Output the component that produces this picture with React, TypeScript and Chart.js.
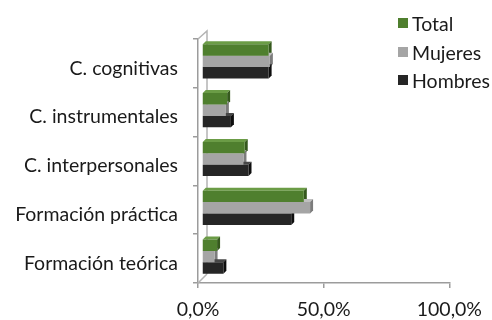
import React, { useEffect, useRef } from "react";
import { Chart, registerables } from "chart.js";

Chart.register(...registerables);

const categories = [
  "C. cognitivas",
  "C. instrumentales",
  "C. interpersonales",
  "Formación práctica",
  "Formación teórica",
];
const seriesNames = ["Total", "Mujeres", "Hombres"];
const totalValues = [26.5, 10, 17, 40.5, 6];
const mujeresValues = [27, 9.5, 16.5, 43, 5];
const hombresValues = [26.5, 11.5, 18.5, 35.5, 8.5];
const xTickValues = [0, 50, 100];

const FRONT = ["#4f7f2e", "#a5a5a5", "#262626"];
const SIDE = ["#35591d", "#7c7c7c", "#0e0e0e"];
const TOPC = ["#6b9c46", "#c0c0c0", "#474747"];
const DEPTH = 3;
const SHIFT_X = 4;
const SHIFT_Y = -2;
const AXIS = "#9c9c9c";
const TEXT = "#1a1a1a";
const FONT = "Lato";
const FSIZE = 19.5;

const threeD = {
  id: "threeD",
  beforeDatasetsDraw(chart: any) {
    const ctx = chart.ctx;
    const { left, top, bottom } = chart.chartArea;
    ctx.save();
    ctx.strokeStyle = "#b4b4b4";
    ctx.lineWidth = 1.5;
    ctx.beginPath();
    ctx.moveTo(left, top);
    ctx.lineTo(left + 9, top - 8);
    ctx.lineTo(left + 9, bottom - 9);
    ctx.moveTo(left, bottom);
    ctx.lineTo(left + 9, bottom - 9);
    ctx.stroke();
    ctx.restore();

    ctx.save();
    ctx.translate(SHIFT_X, SHIFT_Y);
    chart.data.datasets.forEach((_: any, di: number) => {
      const meta = chart.getDatasetMeta(di);
      if (meta.hidden) return;
      meta.data.forEach((el: any) => {
        const p = el.getProps(["x", "y", "base", "height"], true);
        const t = p.y - p.height / 2;
        const b = p.y + p.height / 2;
        const l = Math.min(p.base, p.x);
        const r = Math.max(p.base, p.x);
        const d = DEPTH;
        ctx.fillStyle = TOPC[di];
        ctx.beginPath();
        ctx.moveTo(l, t);
        ctx.lineTo(l + d, t - d);
        ctx.lineTo(r + d, t - d);
        ctx.lineTo(r, t);
        ctx.closePath();
        ctx.fill();
        ctx.fillStyle = SIDE[di];
        ctx.beginPath();
        ctx.moveTo(r, t);
        ctx.lineTo(r + d, t - d);
        ctx.lineTo(r + d, b - d);
        ctx.lineTo(r, b);
        ctx.closePath();
        ctx.fill();
      });
    });
  },
  afterDatasetsDraw(chart: any) {
    chart.ctx.restore();
  },
};

export default function App() {
  const ref = useRef<HTMLCanvasElement | null>(null);

  useEffect(() => {
    document.body.style.margin = "0";
    if (!ref.current) return;
    const seriesValues = [totalValues, mujeresValues, hombresValues];
    const chart = new Chart(ref.current, {
      type: "bar",
      data: {
        labels: categories,
        datasets: seriesNames.map((name, i) => ({
          label: name,
          data: seriesValues[i],
          backgroundColor: FRONT[i],
          borderWidth: 0,
          categoryPercentage: 0.7,
          barPercentage: 1.0,
        })),
      },
      plugins: [threeD],
      options: {
        indexAxis: "y",
        responsive: false,
        animation: false,
        layout: { padding: { left: 0, right: 37, top: 39, bottom: 0 } },
        plugins: {
          legend: { display: false },
          tooltip: { enabled: false },
        },
        scales: {
          x: {
            type: "linear",
            min: 0,
            max: 100,
            afterBuildTicks: (scale: any) => {
              scale.ticks = xTickValues.map((v) => ({ value: v }));
            },
            afterFit: (scale: any) => {
              scale.height = 37;
            },
            ticks: {
              color: TEXT,
              font: { family: FONT, size: FSIZE },
              padding: 10,
              maxRotation: 0,
              callback: (v: any) => Number(v).toFixed(1).replace(".", ",") + "%",
            },
            grid: {
              drawOnChartArea: false,
              drawTicks: true,
              tickLength: 5,
              tickColor: AXIS,
              lineWidth: 1.5,
            },
            border: { color: AXIS, width: 1.5 },
          },
          y: {
            type: "category",
            afterFit: (scale: any) => {
              scale.width = 198;
            },
            ticks: {
              color: TEXT,
              font: { family: FONT, size: FSIZE },
              padding: 15,
              labelOffset: 5,
            },
            grid: {
              offset: true,
              drawOnChartArea: false,
              drawTicks: true,
              tickLength: 5,
              tickColor: AXIS,
              lineWidth: 1.5,
            },
            border: { color: AXIS, width: 1.5 },
          },
        },
      },
    } as any);
    return () => chart.destroy();
  }, []);

  const legendTops = [23, 52, 80];

  return (
    <div style={{ position: "absolute", left: 0, top: 0, width: 492, height: 320 }}>
      <canvas ref={ref} width={492} height={320} style={{ display: "block" }} />
      {seriesNames.map((name, i) => (
        <div
          key={name}
          style={{
            position: "absolute",
            left: 398,
            top: legendTops[i] - 12,
            height: 24,
            display: "flex",
            alignItems: "center",
            fontFamily: FONT,
            fontSize: FSIZE,
            color: TEXT,
            whiteSpace: "nowrap",
          }}
        >
          <span
            style={{
              display: "inline-block",
              width: 10,
              height: 10,
              background: FRONT[i],
              marginRight: 4,
            }}
          />
          {name}
        </div>
      ))}
    </div>
  );
}
